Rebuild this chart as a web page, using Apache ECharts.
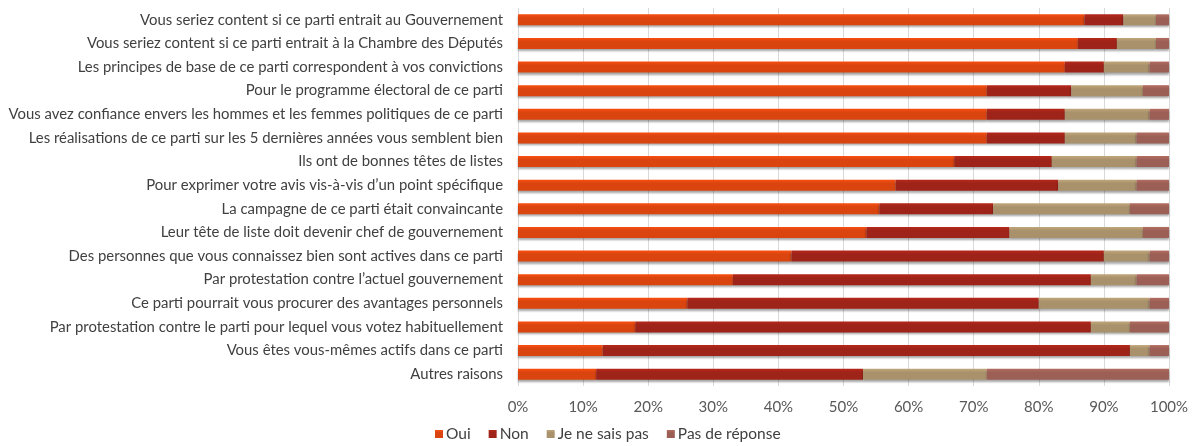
<!DOCTYPE html>
<html>
<head>
<meta charset="utf-8">
<script src="https://cdn.jsdelivr.net/npm/echarts@6/dist/echarts.min.js"></script>
<style>
html,body{margin:0;padding:0;background:#fff;}
#chart{width:1193px;height:446px;}
</style>
</head>
<body>
<div id="chart"></div>
<script>
const categories = [
  "Vous seriez content si ce parti entrait au Gouvernement",
  "Vous seriez content si ce parti entrait à la Chambre des Députés",
  "Les principes de base de ce parti correspondent à vos convictions",
  "Pour le programme électoral de ce parti",
  "Vous avez confiance envers les hommes et les femmes politiques de ce parti",
  "Les réalisations de ce parti sur les 5 dernières années vous semblent bien",
  "Ils ont de bonnes têtes de listes",
  "Pour exprimer votre avis vis-à-vis d’un point spécifique",
  "La campagne de ce parti était convaincante",
  "Leur tête de liste doit devenir chef de gouvernement",
  "Des personnes que vous connaissez bien sont actives dans ce parti",
  "Par protestation contre l’actuel gouvernement",
  "Ce parti pourrait vous procurer des avantages personnels",
  "Par protestation contre le parti pour lequel vous votez habituellement",
  "Vous êtes vous-mêmes actifs dans ce parti",
  "Autres raisons"
];
const seriesNames = ["Oui", "Non", "Je ne sais pas", "Pas de réponse"];
const oui         = [87, 86, 84, 72, 72, 72, 67, 58, 55.5, 53.5, 42, 33, 26, 18, 13, 12];
const non         = [6, 6, 6, 13, 12, 12, 15, 25, 17.5, 22, 48, 55, 54, 70, 81, 41];
const jeNeSaisPas = [5, 6, 7, 11, 13, 11, 13, 12, 21, 20.5, 7, 7, 17, 6, 3, 19];
const pasDeReponse= [2, 2, 3, 4, 3, 5, 5, 5, 6, 4, 3, 5, 3, 6, 3, 28];
const xTicks = [0, 10, 20, 30, 40, 50, 60, 70, 80, 90, 100];

const colors = ["#D9440F", "#9E2318", "#A8916B", "#9C5F55"];
const values = [oui, non, jeNeSaisPas, pasDeReponse];
const FONT = "Lato";

const chart = echarts.init(document.getElementById('chart'), null, {renderer: 'canvas'});
chart.setOption({
  animation: false,
  textStyle: {fontFamily: FONT},
  grid: {left: 518, right: 24, top: 8, bottom: 60, containLabel: false},
  legend: {
    data: seriesNames,
    left: 430, bottom: -1,
    itemWidth: 8, itemHeight: 8, itemGap: 18,
    icon: 'rect',
    textStyle: {fontFamily: FONT, fontSize: 15.5, color: '#404040', padding: [0,0,0,-2]}
  },
  xAxis: {
    type: 'value', min: 0, max: 100, interval: 10,
    axisLine: {show: false}, axisTick: {show: false},
    splitLine: {show: true, lineStyle: {color: '#D9D9D9', width: 1}},
    axisLabel: {formatter: v => xTicks.includes(v) ? v + '%' : '', color: '#595959', fontSize: 15, fontFamily: FONT, margin: 14}
  },
  yAxis: {
    type: 'category', data: categories, inverse: true,
    axisLine: {show: false}, axisTick: {show: false},
    axisLabel: {color: '#404040', fontSize: 14.9, fontFamily: FONT, margin: 15}
  },
  series: seriesNames.map((name, i) => ({
    name: name, type: 'bar', stack: 'total', data: values[i],
    barWidth: 11,
    itemStyle: {
      color: new echarts.graphic.LinearGradient(0, 0, 0, 1, [
        {offset: 0, color: echarts.color.lift(colors[i], -0.15)},
        {offset: 0.35, color: colors[i]},
        {offset: 1, color: colors[i]}
      ]),
      shadowColor: 'rgba(0,0,0,0.35)', shadowBlur: 2, shadowOffsetY: 2
    }
  }))
});
</script>
</body>
</html>
